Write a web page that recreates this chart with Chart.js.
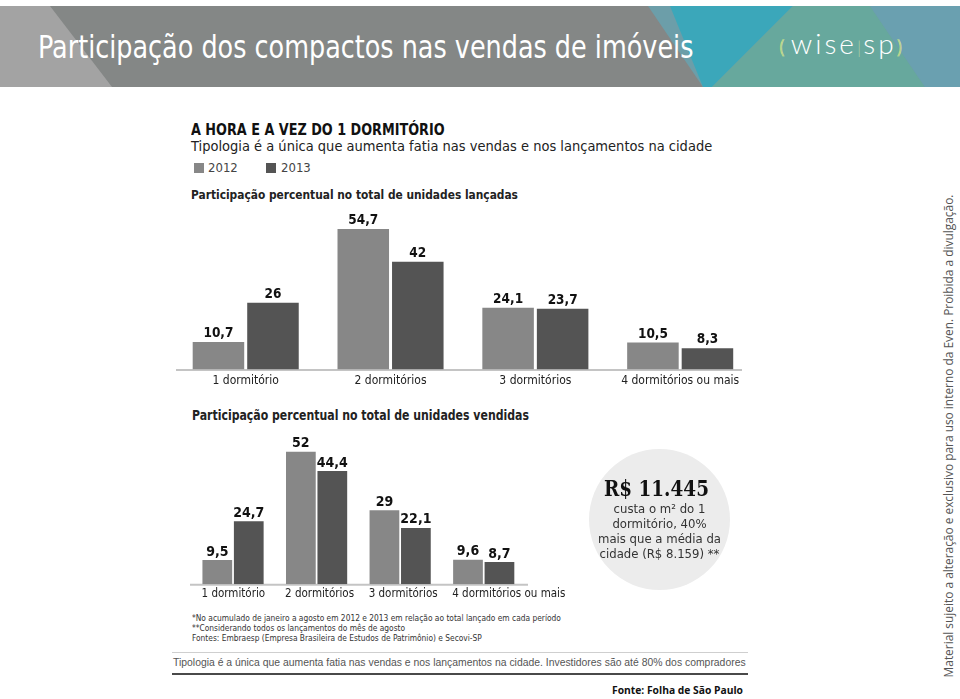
<!DOCTYPE html>
<html>
<head>
<meta charset="utf-8">
<script src="https://cdn.jsdelivr.net/npm/chart.js@4.4.0/dist/chart.umd.min.js"></script>
<style>
  body { margin: 0; width: 960px; height: 699px; background: #fff; position: relative; overflow: hidden; }
  .abs { position: absolute; white-space: nowrap; transform-origin: 0 0; }
  .narrow { font-family: 'DejaVu Sans Condensed', 'Liberation Sans Narrow', sans-serif; }
  #header { position: absolute; left: 0; top: 6px; }
  #title { left: 38px; top: 28px; font-size: 32px; color: #fff; transform: scaleX(0.885); }
  #logo { left: 779px; top: 26px; font-family: Lato, 'Open Sans', sans-serif; font-weight: 300; font-size: 28px; color: #fff; letter-spacing: 3px; }
  #logo .br { color: #d3e38c; font-size: 19px; letter-spacing: -4px; }
  #logo .bar { color: #a9cfa6; font-size: 18px; letter-spacing: 2px; }
  .sq { position: absolute; width: 10px; height: 10px; }
  canvas { position: absolute; }
  #circle { position: absolute; left: 589px; top: 449px; width: 141px; height: 141px; border-radius: 50%; background: #ececec; }
  .line { position: absolute; left: 172px; width: 576px; }
</style>
</head>
<body>

<svg id="header" width="960" height="81">
  <rect x="0" y="0" width="960" height="81" fill="#848786"/>
  <polygon points="0,0 50,0 112,81 0,81" fill="#a3a3a3"/>
  <polygon points="648,0 960,0 960,81 703,81" fill="#6c9ea9"/>
  <polygon points="670,0 793,0 712,81 703,81" fill="#3ba7ba"/>
  <polygon points="793,0 870,0 925,81 712,81" fill="#67a89d"/>
  <polygon points="870,0 960,0 960,81 925,81" fill="#6aa0b0"/>
</svg>
<div id="title" class="abs narrow">Participação dos compactos nas vendas de imóveis</div>
<div id="logo" class="abs"><span class="br">((</span> wise<span class="bar">|</span>sp<span class="br">))</span></div>

<div class="abs narrow" style="left:191px;top:120px;font-size:16px;font-weight:bold;color:#111;transform:scaleX(0.89);">A HORA E A VEZ DO 1 DORMITÓRIO</div>
<div class="abs narrow" style="left:191px;top:138px;font-size:14.5px;color:#222;">Tipologia é a única que aumenta fatia nas vendas e nos lançamentos na cidade</div>
<div class="sq" style="left:194px;top:163px;background:#878787;"></div>
<div class="abs narrow" style="left:208px;top:160px;font-size:13px;color:#444;">2012</div>
<div class="sq" style="left:266px;top:163px;background:#545454;"></div>
<div class="abs narrow" style="left:281px;top:160px;font-size:13px;color:#444;">2013</div>
<div class="abs narrow" style="left:191px;top:187px;font-size:13px;font-weight:bold;color:#222;transform:scaleX(0.91);">Participação percentual no total de unidades lançadas</div>
<div class="abs narrow" style="left:192px;top:407px;font-size:13.5px;font-weight:bold;color:#222;transform:scaleX(0.9);">Participação percentual no total de unidades vendidas</div>

<canvas id="chartLaunched" style="left:170px;top:199px;" width="600" height="193"></canvas>
<canvas id="chartSold" style="left:185px;top:425px;" width="430" height="179"></canvas>

<div id="circle"></div>
<div class="abs" style="left:604px;top:475px;font-family:'DejaVu Serif Condensed','DejaVu Serif',serif;font-weight:bold;font-size:22px;color:#111;transform:scaleX(0.93);">R$ 11.445</div>
<div class="abs narrow" style="left:589px;top:501px;width:141px;text-align:center;font-size:13px;line-height:15px;color:#333;">custa o m² do 1<br>dormitório, 40%<br>mais que a média da<br>cidade (R$ 8.159) **</div>

<div class="abs narrow" style="left:192px;top:613px;font-size:9px;line-height:10px;color:#333;transform:scaleX(0.925);">*No acumulado de janeiro a agosto em 2012 e 2013 em relação ao total lançado em cada período<br>**Considerando todos os lançamentos do mês de agosto<br>Fontes: Embraesp (Empresa Brasileira de Estudos de Patrimônio) e Secovi-SP</div>
<div class="line" style="top:652px;height:1px;background:#cfcfcf;"></div>
<div class="abs" style="left:173px;top:657px;font-family:'Liberation Sans',Arial,sans-serif;font-size:10.4px;color:#555;">Tipologia é a única que aumenta fatia nas vendas e nos lançamentos na cidade. Investidores são até 80% dos compradores</div>
<div class="line" style="top:673px;height:2px;background:#4a4a4a;"></div>
<div class="abs" style="left:612px;top:683px;font-family:'Open Sans',sans-serif;font-weight:bold;font-size:10.3px;color:#111;">Fonte: Folha de São Paulo</div>

<div class="abs" style="left:948px;top:436px;transform:translate(-50%,-50%) rotate(-90deg);transform-origin:50% 50%;font-family:'Open Sans',sans-serif;font-size:11.9px;color:#555;">Material sujeito a alteração e exclusivo para uso interno da Even. Proibida a divulgação.</div>

<script>
// values
const categories = ["1 dormitório", "2 dormitórios", "3 dormitórios", "4 dormitórios ou mais"];
const seriesNames = ["2012", "2013"];
const launched2012 = [10.7, 54.7, 24.1, 10.5];
const launched2013 = [26, 42, 23.7, 8.3];
const sold2012 = [9.5, 52, 29, 9.6];
const sold2013 = [24.7, 44.4, 22.1, 8.7];

const NARROW = "'DejaVu Sans Condensed', 'Liberation Sans Narrow', sans-serif";
const colors = ["#878787", "#545454"];

// value labels above the bars
const valueLabels = {
  id: "valueLabels",
  afterDatasetsDraw(chart, args, opts) {
    const ctx = chart.ctx;
    ctx.save();
    ctx.font = "bold " + opts.size + "px " + NARROW;
    ctx.fillStyle = "#111";
    ctx.textAlign = "center";
    ctx.textBaseline = "alphabetic";
    chart.data.datasets.forEach((ds, i) => {
      chart.getDatasetMeta(i).data.forEach((bar, j) => {
        ctx.fillText(String(ds.data[j]).replace(".", ","), bar.x, bar.y - opts.gap);
      });
    });
    ctx.restore();
  }
};

// light baseline under the bars
const baseLine = {
  id: "baseLine",
  beforeDatasetsDraw(chart, args, opts) {
    const ctx = chart.ctx;
    const y = chart.chartArea.bottom + 0.5;
    ctx.save();
    ctx.strokeStyle = "#c4c4c4";
    ctx.lineWidth = 2;
    ctx.beginPath();
    ctx.moveTo(opts.x1, y);
    ctx.lineTo(opts.x2, y);
    ctx.stroke();
    ctx.restore();
  }
};

function makeChart(id, a, b, yMax, pad, labelSize, gap, tickOpts, line) {
  return new Chart(document.getElementById(id), {
    type: "bar",
    data: {
      labels: categories,
      datasets: [
        { label: seriesNames[0], data: a, backgroundColor: colors[0] },
        { label: seriesNames[1], data: b, backgroundColor: colors[1] },
      ],
    },
    options: {
      responsive: false,
      animation: false,
      categoryPercentage: 0.753,
      barPercentage: 0.945,
      layout: { padding: pad },
      plugins: {
        legend: { display: false },
        tooltip: { enabled: false },
        valueLabels: { size: labelSize, gap: gap },
        baseLine: line,
      },
      scales: {
        x: {
          grid: { display: false, drawTicks: false },
          border: { display: false },
          ticks: Object.assign({ color: "#222", maxRotation: 0, minRotation: 0, autoSkip: false }, tickOpts),
        },
        y: { display: false, min: 0, max: yMax },
      },
    },
    plugins: [valueLabels, baseLine],
  });
}

makeChart("chartLaunched", launched2012, launched2013, 66.4,
  { left: 3.3, right: 17.4, top: 0, bottom: 0 }, 13.5, 5,
  { padding: 4, font: { family: NARROW, size: 12 } }, { x1: 6, x2: 572 });
makeChart("chartSold", sold2012, sold2013, 62.5,
  { left: 6.25, right: 89.5, top: 0, bottom: 0 }, 14, 4.5,
  { padding: 3, align: "start", labelOffset: -31.5, font: { family: NARROW, size: 11.5 } }, { x1: 5, x2: 343 });
</script>
</body>
</html>
